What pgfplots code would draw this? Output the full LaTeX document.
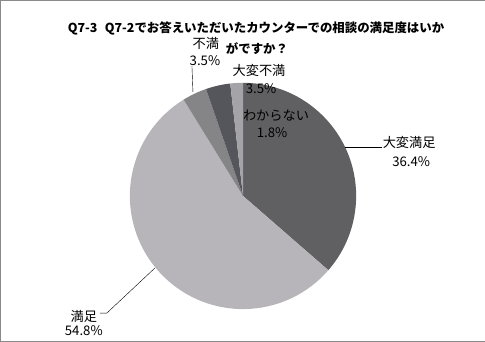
\documentclass[border=0pt]{standalone}
\usepackage{pgfplots}
\pgfplotsset{compat=1.18}
\usepackage{pgfplotstable}
\usepackage{fontspec}
\setmainfont{Noto Sans CJK JP}
\definecolor{c1}{HTML}{606062}
\definecolor{c2}{HTML}{B8B5BA}
\definecolor{c3}{HTML}{858588}
\definecolor{c4}{HTML}{55555C}
\definecolor{c5}{HTML}{A3A3A8}
\definecolor{frame}{HTML}{8A8A8A}
\begin{document}
\begin{tikzpicture}
\begin{axis}[
  width=485pt, height=342pt, scale only axis,
  xmin=0, xmax=485, ymin=0, ymax=342,
  hide axis, clip=false,
]
% pie: values in percent, clockwise from 12 o'clock
\pgfplotsextra{
  \foreach \v/\c [remember=\e as \acc (initially 90)] in {36.4/c1,54.8/c2,3.5/c3,3.5/c4,1.8/c5}{
    \pgfmathsetmacro\e{\acc-\v*3.6}
    \fill[\c] (axis cs:243,146) -- ++(\acc:113pt) arc[start angle=\acc, end angle=\e, radius=113pt] -- cycle;
  }
  \draw[frame] (axis cs:0.5,0.5) rectangle (axis cs:484.5,341.5);
  % title
  \node[font=\fontsize{12.4}{14}\selectfont\bfseries] at (axis cs:256,313) {Q7-3\hspace{0.6em}Q7-2でお答えいただいたカウンターでの相談の満足度はいか};
  \node[font=\fontsize{12.4}{14}\selectfont\bfseries] at (axis cs:257,293) {がですか？};
  % leader lines
  \draw[black, thin] (axis cs:345,195) -- (axis cs:382,195);
  \draw[black, thin] (axis cs:155,74) -- (axis cs:107,29) -- (axis cs:100,29);
  \draw[black, thin] (axis cs:193,250) -- (axis cs:192,276);
  % labels
  \begin{scope}[every node/.style={font=\fontsize{13.2}{15}\selectfont, inner sep=0pt}]
  \node at (axis cs:409,199) {大変満足};
  \node at (axis cs:411,180) {36.4\%};
  \node at (axis cs:84,26) {満足};
  \node at (axis cs:84,11) {54.8\%};
  \node at (axis cs:206,298) {不満};
  \node at (axis cs:205,281) {3.5\%};
  \node at (axis cs:259,271) {大変不満};
  \node at (axis cs:261,253.5) {3.5\%};
  \node at (axis cs:276,226) {わからない};
  \node at (axis cs:272,209.5) {1.8\%};
  \end{scope}
}
\end{axis}
\end{tikzpicture}
\end{document}
